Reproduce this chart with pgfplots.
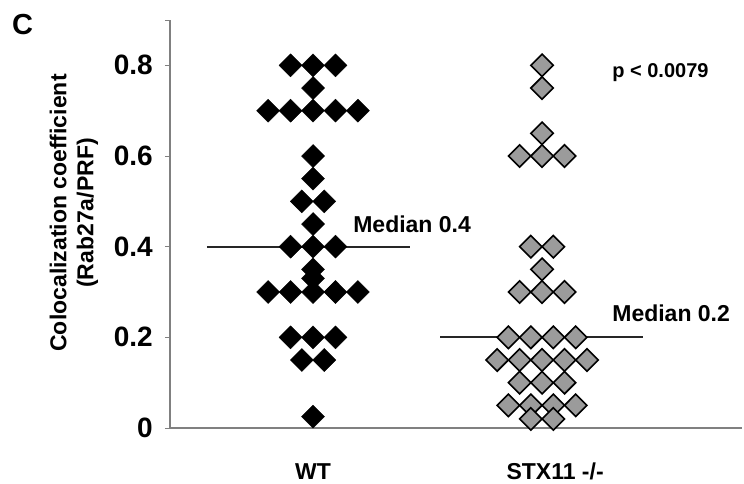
\documentclass[border=0pt]{standalone}
\usepackage{pgfplots}
\pgfplotsset{compat=1.18}
\usepackage{fontspec}
\setmainfont{Liberation Sans}
\definecolor{axgray}{RGB}{128,128,128}
\definecolor{ptgray}{RGB}{155,155,155}
\begin{document}
\begin{tikzpicture}
\path[use as bounding box] (-170pt,-55pt) rectangle (574pt,428pt);
\begin{axis}[
  at={(0,0)}, anchor=south west,
  scale only axis, width=572pt, height=408pt,
  xmin=0.3755, xmax=2.873, ymin=0, ymax=0.9,
  axis lines*=left,
  axis line style={axgray, line width=1.2pt},
  clip=false,
  ytick={0,0.2,0.4,0.6,0.8},
  yticklabels={\textbf{0},\textbf{0.2},\textbf{0.4},\textbf{0.6},\textbf{0.8}},
  extra y ticks={0.9}, extra y tick labels={},
  extra y tick style={major tick length=5pt, tick style={axgray, line width=1pt}},
  tick align=outside,
  major tick length=5pt,
  ytick style={axgray, line width=1pt},
  yticklabel style={font=\fontsize{28}{30}\selectfont\bfseries, anchor=east, inner sep=0pt, xshift=-12pt},
  xtick={1,2.057},
  xticklabels={\textbf{WT},\textbf{STX11 -/-}},
  xtick style={draw=none},
  xticklabel style={font=\fontsize{23}{26}\selectfont\bfseries, anchor=base, inner sep=0pt, yshift=-46pt},
  ylabel={Colocalization coefficient\\(Rab27a/PRF)},
  ylabel style={font=\fontsize{23}{27}\selectfont\bfseries, align=center, at={(axis description cs:-0.168,0.527)}, anchor=center, rotate=0},
]
% WT
\addplot[only marks, mark=diamond*, mark size=11.5pt, mark options={xscale=1.333, fill=black, draw=black}] coordinates {
(0.902,0.8) (1,0.8) (1.098,0.8)
(1,0.75)
(0.804,0.7) (0.902,0.7) (1,0.7) (1.098,0.7) (1.196,0.7)
(1,0.6)
(1,0.55)
(0.951,0.5) (1.049,0.5)
(1,0.45)
(0.902,0.4) (1,0.4) (1.098,0.4)
(1,0.35)
(1,0.33)
(0.804,0.3) (0.902,0.3) (1,0.3) (1.098,0.3) (1.196,0.3)
(0.902,0.2) (1,0.2) (1.098,0.2)
(0.951,0.15) (1.049,0.15)
(1,0.025)
};
% STX11
\addplot[only marks, mark=diamond*, mark size=11.2pt, mark options={xscale=1.333, fill=ptgray, draw=black, line width=1.6pt}] coordinates {
(2,0.8)
(2,0.75)
(2,0.65)
(1.902,0.6) (2,0.6) (2.098,0.6)
(1.951,0.4) (2.049,0.4)
(2,0.35)
(1.902,0.3) (2,0.3) (2.098,0.3)
(1.853,0.2) (1.951,0.2) (2.049,0.2) (2.147,0.2)
(1.804,0.15) (1.902,0.15) (2,0.15) (2.098,0.15) (2.196,0.15)
(1.902,0.1) (2,0.1) (2.098,0.1)
(1.853,0.05) (1.951,0.05) (2.049,0.05) (2.147,0.05)
(1.951,0.02) (2.049,0.02)
};
% medians
\addplot[black!85, line width=2pt] coordinates {(0.537,0.4) (1.424,0.4)};
\addplot[black!85, line width=2pt] coordinates {(1.555,0.2) (2.441,0.2)};
\node[anchor=base west, inner sep=0pt, font=\fontsize{23}{26}\selectfont\bfseries] at (axis cs:1.175,0.431) {Median 0.4};
\node[anchor=base west, inner sep=0pt, font=\fontsize{23}{26}\selectfont\bfseries] at (axis cs:2.306,0.234) {Median 0.2};
\node[anchor=base west, inner sep=0pt, font=\fontsize{20}{24}\selectfont\bfseries] at (axis cs:2.306,0.7735) {p < 0.0079};
\end{axis}
\node[anchor=base west, inner sep=0pt, font=\fontsize{29}{32}\selectfont\bfseries] at (-158pt,393pt) {C};
\end{tikzpicture}
\end{document}
